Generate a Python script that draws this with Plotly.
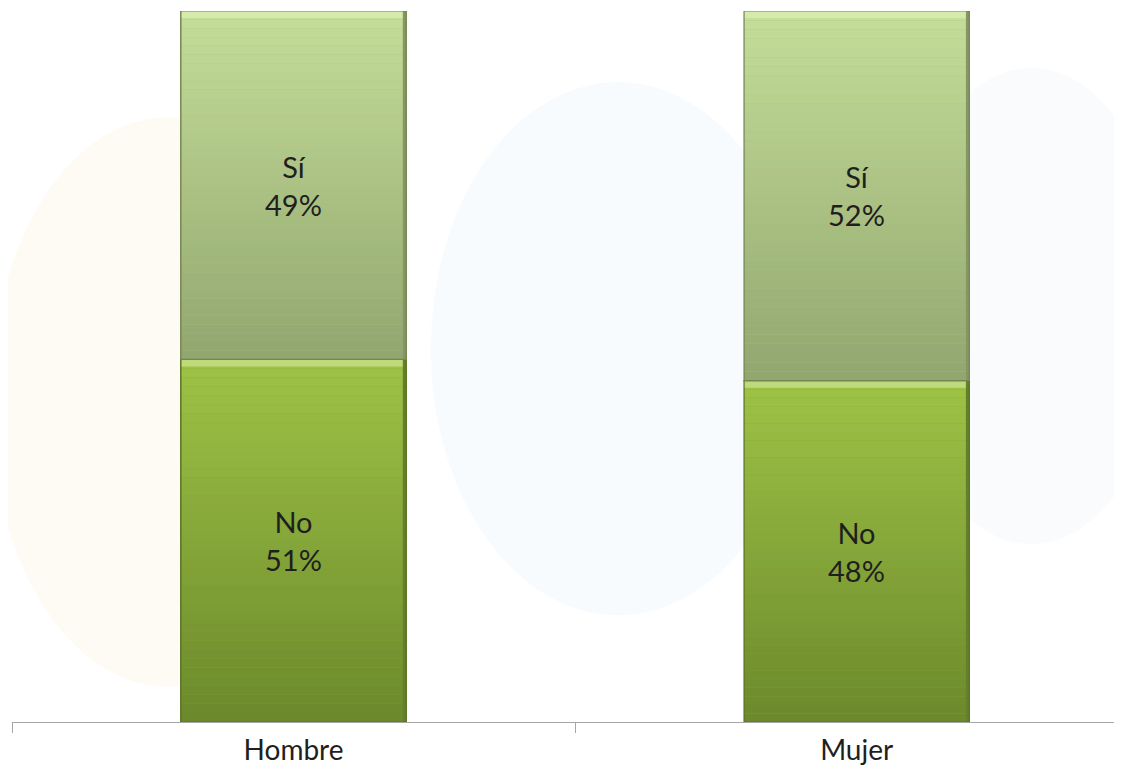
import plotly.graph_objects as go

# data
categories = ["Hombre", "Mujer"]
no_pct = [51, 48]
si_pct = [49, 52]
series_names = ["No", "Sí"]

# style
BAR_W = 0.40
SI_TOP, SI_BOT = (196, 221, 152), (146, 167, 112)
NO_TOP, NO_BOT = (158, 194, 70), (108, 138, 44)
FONT = "Lato"
FONT_SIZE = 29


def mix(c1, c2, t):
    return "rgb(%d,%d,%d)" % tuple(round(a + (b - a) * t) for a, b in zip(c1, c2))


fig = go.Figure()
fig.add_trace(go.Bar(x=categories, y=no_pct, name=series_names[0], width=BAR_W,
                     marker=dict(color=mix(NO_TOP, NO_BOT, 0.5), line=dict(color="#6a8530", width=1))))
fig.add_trace(go.Bar(x=categories, y=si_pct, name=series_names[1], width=BAR_W,
                     marker=dict(color=mix(SI_TOP, SI_BOT, 0.5), line=dict(color="#8a9c6c", width=1))))

# gradient + bevel overlay built from the data
shapes = []
annotations = []
n_steps = 40
for i, cat in enumerate(categories):
    segs = [(0, no_pct[i], NO_TOP, NO_BOT, series_names[0], no_pct[i]),
            (no_pct[i], no_pct[i] + si_pct[i], SI_TOP, SI_BOT, series_names[1], si_pct[i])]
    x0, x1 = i - BAR_W / 2, i + BAR_W / 2
    for y_lo, y_hi, c_top, c_bot, name, val in segs:
        h = (y_hi - y_lo) / n_steps
        for k in range(n_steps):
            t = k / (n_steps - 1)
            shapes.append(dict(type="rect", xref="x", yref="y", layer="above",
                               x0=x0, x1=x1, y0=y_hi - (k + 1) * h, y1=y_hi - k * h,
                               fillcolor=mix(c_top, c_bot, t), line=dict(width=0)))
        # bevel: light top strip, slightly darker right edge, outline
        shapes.append(dict(type="rect", xref="x", yref="y", layer="above",
                           x0=x0, x1=x1, y0=y_hi - 1.0, y1=y_hi,
                           fillcolor=mix(c_top, (240, 255, 200), 0.4), line=dict(width=0)))
        shapes.append(dict(type="rect", xref="x", yref="y", layer="above",
                           x0=x1 - 0.006, x1=x1, y0=y_lo, y1=y_hi,
                           fillcolor=mix(c_bot, (60, 70, 30), 0.15), line=dict(width=0)))
        shapes.append(dict(type="rect", xref="x", yref="y", layer="above",
                           x0=x0, x1=x1, y0=y_lo, y1=y_hi, fillcolor="rgba(0,0,0,0)",
                           line=dict(color=mix(c_bot, (60, 70, 30), 0.35), width=1.2)))
        annotations.append(dict(x=cat, y=(y_lo + y_hi) / 2, xref="x", yref="y",
                                text=f"{name}<br>{val}%", showarrow=False,
                                font=dict(family=FONT, size=FONT_SIZE, color="#1f1f1f")))

# faint watermark in the background
shapes += [
    dict(type="circle", xref="paper", yref="paper", layer="below",
         x0=-0.02, x1=0.30, y0=0.05, y1=0.85, fillcolor="rgba(253,240,215,0.25)", line=dict(width=0)),
    dict(type="circle", xref="paper", yref="paper", layer="below",
         x0=0.38, x1=0.72, y0=0.15, y1=0.90, fillcolor="rgba(225,236,246,0.22)", line=dict(width=0)),
    dict(type="circle", xref="paper", yref="paper", layer="below",
         x0=0.80, x1=1.05, y0=0.25, y1=0.92, fillcolor="rgba(225,236,246,0.2)", line=dict(width=0)),
]

fig.update_layout(
    barmode="stack",
    width=1106, height=763,
    margin=dict(l=4, r=0, t=3, b=49),
    plot_bgcolor="white",
    paper_bgcolor="white",
    showlegend=False,
    shapes=shapes,
    annotations=annotations,
    font=dict(family=FONT, color="#1f1f1f"),
)
fig.update_xaxes(range=[-0.5, 1.457], tickson="boundaries", ticks="outside", ticklen=10,
                 tickcolor="#a6a6a6", showline=True, linecolor="#a6a6a6", linewidth=1,
                 tickfont=dict(family=FONT, size=28, color="#1f1f1f"), ticklabelstandoff=3,
                 showgrid=False, automargin=False)
fig.update_yaxes(range=[0, 100], visible=False, showgrid=False)

fig.write_html("out.html")
